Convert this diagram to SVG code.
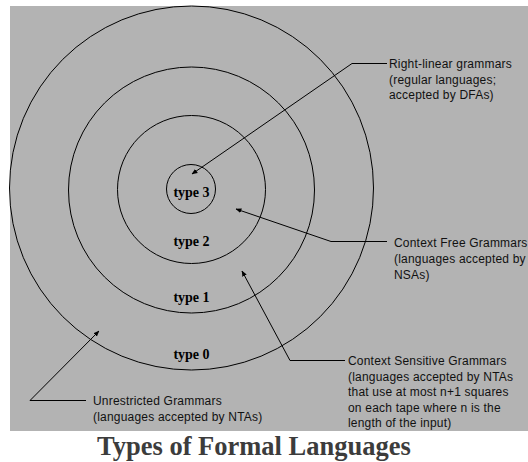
<svg xmlns="http://www.w3.org/2000/svg" width="528" height="462" viewBox="0 0 528 462">
<style>
.ring{fill:none;stroke:#000;stroke-width:1}
.tl{font-family:"Liberation Serif","Times New Roman",serif;font-weight:bold;font-size:14px;fill:#000;text-anchor:middle}
.lb{font-family:"Liberation Sans",Arial,sans-serif;font-size:12px;fill:#111;letter-spacing:0.2px}
.cn{fill:none;stroke:#000;stroke-width:1}
.title{font-family:"Liberation Serif","Times New Roman",serif;font-weight:bold;font-size:26.5px;fill:#3c3c3c}
</style>
<defs>
<marker id="ah" viewBox="0 0 10 10" refX="9" refY="5" markerWidth="6" markerHeight="6" markerUnits="userSpaceOnUse" orient="auto">
<path d="M0,1 L10,5 L0,9 z" fill="#000"/>
</marker>
</defs>
<rect x="0" y="0" width="528" height="462" fill="#fff"/>
<rect x="10" y="6" width="518" height="425" fill="#b3b3b3"/>
<g id="type0"><circle class="ring" cx="191.5" cy="188" r="182"/><text class="tl" x="191.5" y="359">type 0</text></g>
<g id="type1"><circle class="ring" cx="191.5" cy="190" r="123"/><text class="tl" x="191.5" y="302">type 1</text></g>
<g id="type2"><circle class="ring" cx="191.5" cy="189.5" r="74"/><text class="tl" x="191.5" y="246">type 2</text></g>
<g id="type3"><circle class="ring" cx="191" cy="189" r="24.5"/><text class="tl" x="191.5" y="197">type 3</text></g>
<g id="connectors">
<polyline class="cn" points="387,63.5 352,63.5 192,174" marker-end="url(#ah)"/>
<polyline class="cn" points="387,241.5 331,241.5 236,209" marker-end="url(#ah)"/>
<polyline class="cn" points="345,360.5 290,360.5 242,271" marker-end="url(#ah)"/>
<polyline class="cn" points="86,400.5 30,400.5 99,331" marker-end="url(#ah)"/>
</g>
<g id="right-linear">
<text class="lb" x="389" y="68">Right-linear grammars</text>
<text class="lb" x="389" y="84">(regular languages;</text>
<text class="lb" x="389" y="99">accepted by DFAs)</text>
</g>
<g id="context-free">
<text class="lb" x="394" y="247">Context Free Grammars</text>
<text class="lb" x="394" y="263">(languages accepted by</text>
<text class="lb" x="394" y="279">NSAs)</text>
</g>
<g id="context-sensitive">
<text class="lb" x="348" y="365">Context Sensitive Grammars</text>
<text class="lb" x="348" y="381">(languages accepted by NTAs</text>
<text class="lb" x="348" y="396">that use at most n+1 squares</text>
<text class="lb" x="348" y="412">on each tape where n is the</text>
<text class="lb" x="348" y="427">length of the input)</text>
</g>
<g id="unrestricted">
<text class="lb" x="93" y="405">Unrestricted Grammars</text>
<text class="lb" x="93" y="421">(languages accepted by NTAs)</text>
</g>
<text class="title" x="97" y="455">Types of Formal Languages</text>
</svg>
